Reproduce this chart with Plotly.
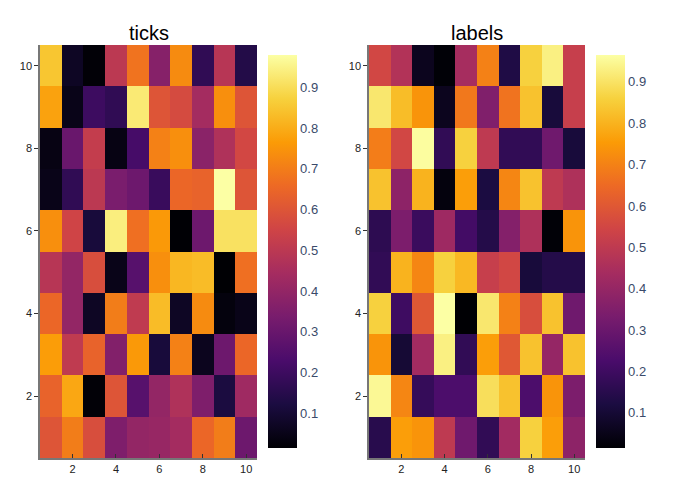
import plotly.graph_objects as go

xs = list(range(1, 11))
ys = list(range(1, 11))

# rows from y=1 (bottom) to y=10 (top)
ticks_z = [
    [0.60, 0.70, 0.58, 0.35, 0.40, 0.41, 0.44, 0.65, 0.70, 0.31],
    [0.64, 0.79, 0.02, 0.60, 0.26, 0.40, 0.47, 0.35, 0.12, 0.43],
    [0.77, 0.51, 0.64, 0.36, 0.76, 0.11, 0.71, 0.06, 0.31, 0.65],
    [0.65, 0.40, 0.07, 0.70, 0.51, 0.83, 0.07, 0.73, 0.03, 0.05],
    [0.49, 0.40, 0.58, 0.05, 0.26, 0.74, 0.82, 0.83, 0.014, 0.67],
    [0.74, 0.55, 0.11, 0.94, 0.67, 0.76, 0.015, 0.31, 0.91, 0.91],
    [0.05, 0.17, 0.50, 0.34, 0.31, 0.19, 0.65, 0.64, 0.98, 0.60],
    [0.04, 0.30, 0.52, 0.04, 0.22, 0.71, 0.74, 0.38, 0.47, 0.56],
    [0.78, 0.05, 0.20, 0.17, 0.93, 0.60, 0.57, 0.44, 0.74, 0.60],
    [0.85, 0.07, 0.02, 0.50, 0.68, 0.37, 0.73, 0.17, 0.49, 0.14],
]

labels_z = [
    [0.15, 0.76, 0.74, 0.50, 0.31, 0.17, 0.43, 0.86, 0.76, 0.38],
    [0.95, 0.71, 0.18, 0.23, 0.23, 0.89, 0.83, 0.23, 0.74, 0.34],
    [0.74, 0.10, 0.43, 0.93, 0.17, 0.76, 0.60, 0.83, 0.40, 0.83],
    [0.86, 0.20, 0.60, 0.965, 0.015, 0.91, 0.70, 0.57, 0.83, 0.31],
    [0.17, 0.80, 0.71, 0.86, 0.81, 0.52, 0.55, 0.11, 0.14, 0.14],
    [0.16, 0.34, 0.19, 0.42, 0.21, 0.14, 0.36, 0.46, 0.02, 0.74],
    [0.83, 0.38, 0.80, 0.03, 0.76, 0.12, 0.71, 0.83, 0.50, 0.46],
    [0.69, 0.55, 0.96, 0.17, 0.86, 0.50, 0.17, 0.17, 0.31, 0.11],
    [0.91, 0.82, 0.74, 0.06, 0.68, 0.35, 0.67, 0.83, 0.11, 0.52],
    [0.55, 0.47, 0.06, 0.02, 0.44, 0.70, 0.13, 0.86, 0.93, 0.52],
]

titles = ["ticks", "labels"]
tickvals = [2, 4, 6, 8, 10]
cb_ticks = [0.1, 0.2, 0.3, 0.4, 0.5, 0.6, 0.7, 0.8, 0.9]

W, H = 700, 500
def px_x(p): return p / W
def px_y(p): return 1 - p / H

fig = go.Figure()
cb_common = dict(
    thickness=29, thicknessmode="pixels", len=393 / H, lenmode="fraction",
    y=px_y(251.5), yanchor="middle", xanchor="left", outlinewidth=0,
    ticks="", tickvals=cb_ticks, ticklabelposition="outside",
    tickfont=dict(family="Liberation Sans, Arial", size=13, color="#3a4a6a"),
    xpad=0, ypad=0,
)
fig.add_trace(go.Heatmap(
    x=xs, y=ys, z=ticks_z, colorscale="Inferno", xaxis="x", yaxis="y",
    colorbar=dict(x=px_x(268), **cb_common),
))
fig.add_trace(go.Heatmap(
    x=xs, y=ys, z=labels_z, colorscale="Inferno", xaxis="x2", yaxis="y2",
    colorbar=dict(x=px_x(596), **cb_common),
))

axfont = dict(family="Liberation Sans, Arial", size=11, color="#222222")
xcommon = dict(range=[0.5, 10.5], tickvals=tickvals, ticks="inside", ticklen=4,
               tickcolor="#333", showgrid=False, zeroline=False, showline=True,
               linecolor="#777", linewidth=1.5, tickfont=axfont)
ycommon = dict(range=[0.5, 10.5], tickvals=tickvals, ticks="outside", ticklen=4,
               tickcolor="#333", showgrid=False, zeroline=False, showline=True,
               linecolor="#777", linewidth=1.5, tickfont=axfont)

title_font = dict(family="Liberation Sans, Arial", size=20, color="black")
fig.update_layout(
    width=W, height=H, margin=dict(l=0, r=0, t=0, b=0),
    paper_bgcolor="white", plot_bgcolor="white",
    xaxis=dict(domain=[px_x(40), px_x(257)], anchor="y", **xcommon),
    yaxis=dict(domain=[px_y(458), px_y(45)], anchor="x", **ycommon),
    xaxis2=dict(domain=[px_x(369), px_x(585)], anchor="y2", **xcommon),
    yaxis2=dict(domain=[px_y(458), px_y(45)], anchor="x2", **ycommon),
    annotations=[
        dict(text=titles[0], x=(px_x(40) + px_x(257)) / 2, y=px_y(33), xref="paper", yref="paper",
             xanchor="center", yanchor="middle", showarrow=False, font=title_font),
        dict(text=titles[1], x=(px_x(369) + px_x(585)) / 2, y=px_y(33), xref="paper", yref="paper",
             xanchor="center", yanchor="middle", showarrow=False, font=title_font),
    ],
)

fig.write_html("out.html")
